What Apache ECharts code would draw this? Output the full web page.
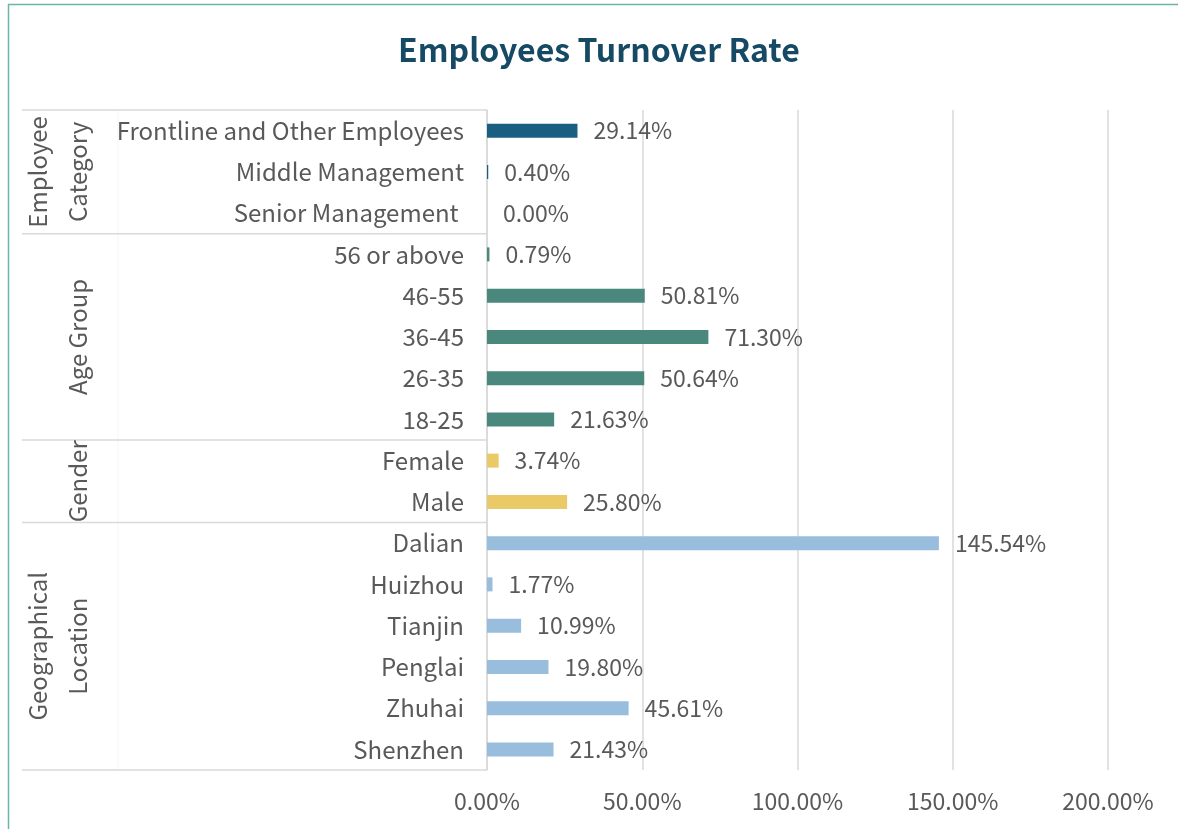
<!DOCTYPE html>
<html><head><meta charset="utf-8">
<script src="https://cdn.jsdelivr.net/npm/echarts@6/dist/echarts.min.js"></script>
<style>html,body{margin:0;padding:0;background:#fff}#c{width:1178px;height:829px}</style>
</head><body><div id="c"></div>
<script>
const categories = ['Frontline and Other Employees','Middle Management','Senior Management ','56 or above','46-55','36-45','26-35','18-25','Female','Male','Dalian','Huizhou','Tianjin','Penglai','Zhuhai','Shenzhen'];
const values = [29.14,0.40,0.00,0.79,50.81,71.30,50.64,21.63,3.74,25.80,145.54,1.77,10.99,19.80,45.61,21.43];
const groupNames = [['Employee','Category'],['Age Group'],['Gender'],['Geographical','Location']];
const groupSizes = [3,5,2,6];
const groupColors = ['#1A5E80','#4A877D','#EACA66','#99BDDD'];
const xTicks = [0,50,100,150,200];

const FONT = '"Noto Sans CJK JP","Noto Sans",sans-serif';
const TXT = '#595959';
const chart = echarts.init(document.getElementById('c'));

const barData = [];
let gi = 0, cnt = 0;
values.forEach(function(v){
  barData.push({value: v, itemStyle: {color: groupColors[gi]}});
  cnt++;
  if (cnt >= groupSizes[gi]) { gi++; cnt = 0; }
});

chart.setOption({
  animation: false,
  backgroundColor: '#fff',
  textStyle: {fontFamily: FONT},
  title: {
    text: 'Employees Turnover Rate', left: 393, top: 29,
    textStyle: {fontSize: 32, fontWeight: 'bold', color: '#164A64', fontFamily: FONT}
  },
  grid: {left: 487, right: 70, top: 110, bottom: 59},
  xAxis: {
    type: 'value', min: xTicks[0], max: xTicks[xTicks.length-1], interval: xTicks[1]-xTicks[0],
    axisLine: {show: false}, axisTick: {show: false},
    splitLine: {lineStyle: {color: '#D9D9D9', width: 1.5}},
    axisLabel: {margin: 20, fontSize: 23, color: TXT, fontFamily: FONT,
      formatter: function(v){ return v.toFixed(2) + '%'; }}
  },
  yAxis: {
    type: 'category', inverse: true, data: categories,
    axisTick: {show: false},
    axisLine: {show: true, lineStyle: {color: '#D9D9D9', width: 1.5}},
    axisLabel: {margin: 23, fontSize: 24, color: TXT, fontFamily: FONT}
  },
  series: [{
    type: 'bar', data: barData, barWidth: 14,
    label: {show: true, position: 'right', distance: 16, fontSize: 23, color: TXT, fontFamily: FONT,
      formatter: function(p){ return p.value.toFixed(2) + '%'; }}
  }]
});

function py(i){ return chart.convertToPixel({yAxisIndex: 0}, i); }
const band = py(1) - py(0);
const g = [];
g.push({type:'line', shape:{x1:8, y1:4.5, x2:1178, y2:4.5}, style:{stroke:'#6BB5A6', lineWidth:1.5}});
g.push({type:'line', shape:{x1:8.5, y1:4, x2:8.5, y2:829}, style:{stroke:'#6BB5A6', lineWidth:1.5}});
const topY = py(0) - band/2, botY = py(values.length-1) + band/2;
g.push({type:'line', shape:{x1:118, y1:topY, x2:118, y2:botY}, style:{stroke:'#F4F4F4', lineWidth:1}});
let start = 0;
const bounds = [topY];
groupSizes.forEach(function(n){ start += n; bounds.push(py(start-1) + band/2); });
bounds.forEach(function(y){
  g.push({type:'line', shape:{x1:22, y1:y, x2:487, y2:y}, style:{stroke:'#D9D9D9', lineWidth:1.5}});
});
groupNames.forEach(function(lines, k){
  const cy = (bounds[k] + bounds[k+1]) / 2;
  lines.forEach(function(t, j){
    const x = lines.length === 2 ? (j === 0 ? 38 : 78) : 78;
    g.push({type:'text', x: x, y: cy, rotation: Math.PI/2,
      style:{text: t, x:0, y:0, align:'center', verticalAlign:'middle', fontSize:24, fill:TXT, fontFamily:FONT}});
  });
});
chart.setOption({graphic: g});
</script></body></html>
